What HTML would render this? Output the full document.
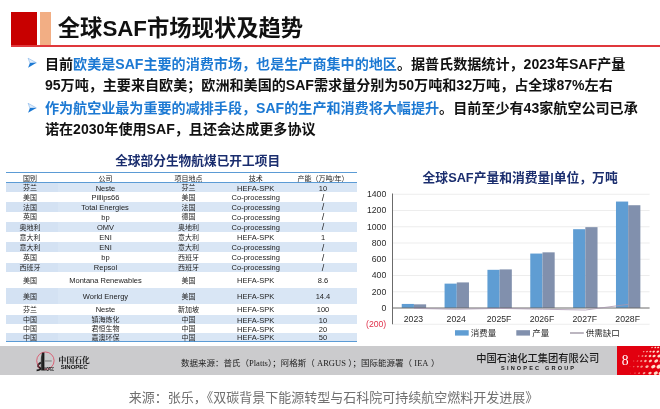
<!DOCTYPE html>
<html lang="zh"><head><meta charset="utf-8"><title>全球SAF市场现状及趋势</title><style>
html,body{margin:0;padding:0;background:#fff}
body{width:660px;height:409px;position:relative;overflow:hidden;font-family:"Liberation Sans",sans-serif}
#v{position:absolute;left:0;top:0;width:660px;height:409px;overflow:hidden}
#w{position:absolute;left:0;top:0;width:660px;height:409px;filter:blur(.5px)}
.b{position:absolute}
.l{position:absolute;overflow:hidden;white-space:nowrap;line-height:1;color:transparent}
.l svg{position:absolute;left:0;top:0;overflow:visible}
.l text{font-family:"Liberation Sans","Noto Sans CJK SC",sans-serif}
.l text.se,.l tspan.se{font-family:"Liberation Serif","Noto Serif CJK SC",serif}
</style></head>
<body>
<div id="v"><div id="w">
<div class="b" style="left:10.5px;top:12.4px;width:26.5px;height:33.4px;background:#c80000"></div>
<div class="b" style="left:40.0px;top:12.4px;width:11.0px;height:33.4px;background:#f2ae84"></div>
<div class="b" style="left:10.5px;top:45.3px;width:665.0px;height:1.5px;background:#e0383c"></div>
<div class="l" style="left:56px;top:12px;width:247px;height:32px;font-size:22.3px"><svg width="247" height="32"><text x="1.8" y="24.3" font-size="22.3" font-weight="bold" fill="#111">全球SAF市场现状及趋势</text></svg></div>
<svg class="b" style="left:27px;top:57px" width="12" height="13" viewBox="-0.70 -0.70 12 13"><path d="M0.4 0.5L8.7 5.1L2.2 5.3Z" fill="#e3eefa" stroke="#6aa6e6" stroke-width="0.5" stroke-linejoin="round"/><path d="M2.2 5.3L8.7 5.1L0.4 10Z" fill="#1c79d3"/></svg>
<svg class="b" style="left:27px;top:102px" width="12" height="13" viewBox="-0.70 -0.80 12 13"><path d="M0.4 0.5L8.7 5.1L2.2 5.3Z" fill="#e3eefa" stroke="#6aa6e6" stroke-width="0.5" stroke-linejoin="round"/><path d="M2.2 5.3L8.7 5.1L0.4 10Z" fill="#1c79d3"/></svg>
<div class="l" style="left:43px;top:53px;width:585px;height:22px;font-size:14.1px"><svg width="585" height="22"><text x="1.9" y="15.8" font-size="14.08" font-weight="bold" fill="#111">目前<tspan fill="#1c79d3">欧美是SAF主要的消费市场，也是生产商集中的地区</tspan>。据普氏数据统计，2023年SAF产量</text></svg></div>
<div class="l" style="left:43px;top:74px;width:572px;height:22px;font-size:14.1px"><svg width="572" height="22"><text x="1.9" y="15.95" font-size="14.08" font-weight="bold" fill="#111">95万吨，主要来自欧美；欧洲和美国的SAF需求量分别为50万吨和32万吨，占全球87%左右</text></svg></div>
<div class="l" style="left:43px;top:97px;width:597px;height:22px;font-size:14.1px"><svg width="597" height="22"><text x="1.9" y="16.05" font-size="14.08" font-weight="bold" fill="#111"><tspan fill="#1c79d3">作为航空业最为重要的减排手段，SAF的生产和消费将大幅提升</tspan>。目前至少有43家航空公司已承</text></svg></div>
<div class="l" style="left:43px;top:119px;width:275px;height:21px;font-size:14.1px"><svg width="275" height="21"><text x="1.9" y="15.15" font-size="14.08" font-weight="bold" fill="#111">诺在2030年使用SAF，且还会达成更多协议</text></svg></div>
<div class="l" style="left:114px;top:151px;width:169px;height:19px;font-size:12.7px"><svg width="169" height="19"><text x="1.15" y="14" font-size="12.7" font-weight="bold" fill="#1a2d6e">全球部分生物航煤已开工项目</text></svg></div>
<div class="b" style="left:6.0px;top:172.1px;width:351.0px;height:1.1px;background:#5b9bd5"></div>
<div class="b" style="left:6.0px;top:181.8px;width:351.0px;height:1.1px;background:#5b9bd5"></div>
<div class="b" style="left:6.0px;top:340.9px;width:351.0px;height:1.0px;background:#5b9bd5"></div>
<div class="l" style="left:22px;top:172px;width:17px;height:13px;font-size:7.0px"><svg width="17" height="13"><text x="1" y="8.99" font-size="7" fill="#1c1c1c">国别</text></svg></div>
<div class="l" style="left:97px;top:172px;width:18px;height:13px;font-size:7.0px"><svg width="18" height="13"><text x="1.5" y="8.99" font-size="7" fill="#1c1c1c">公司</text></svg></div>
<div class="l" style="left:173px;top:172px;width:32px;height:13px;font-size:7.0px"><svg width="32" height="13"><text x="1.5" y="8.99" font-size="7" fill="#1c1c1c">项目地点</text></svg></div>
<div class="l" style="left:247px;top:172px;width:18px;height:13px;font-size:7.0px"><svg width="18" height="13"><text x="1.8" y="8.99" font-size="7" fill="#1c1c1c">技术</text></svg></div>
<div class="l" style="left:296px;top:172px;width:55px;height:13px;font-size:7.0px"><svg width="55" height="13"><text x="1.53" y="8.99" font-size="7" fill="#1c1c1c">产能（万吨/年）</text></svg></div>
<div class="b" style="left:6.0px;top:182.9px;width:351.0px;height:9.5px;background:#d9e6f5"></div>
<div class="b" style="left:6.0px;top:182.9px;width:52.0px;height:9.5px;background:#d4e2f3"></div>
<div class="l" style="left:22px;top:182px;width:17px;height:12px;font-size:7.0px"><svg width="17" height="12"><text x="1" y="8.44" font-size="7" fill="#1c1c1c">芬兰</text></svg></div>
<div class="l" style="left:94px;top:182px;width:24px;height:12px;font-size:7.5px"><svg width="24" height="12"><text x="1.7" y="8.62" font-size="7.5" fill="#1c1c1c">Neste</text></svg></div>
<div class="l" style="left:180px;top:182px;width:18px;height:12px;font-size:7.0px"><svg width="18" height="12"><text x="1.5" y="8.44" font-size="7" fill="#1c1c1c">芬兰</text></svg></div>
<div class="l" style="left:236px;top:182px;width:41px;height:12px;font-size:7.5px"><svg width="41" height="12"><text x="1.05" y="8.62" font-size="7.5" fill="#1c1c1c">HEFA-SPK</text></svg></div>
<div class="l" style="left:317px;top:182px;width:13px;height:12px;font-size:7.5px"><svg width="13" height="12"><text x="1.83" y="8.62" font-size="7.5" fill="#1c1c1c">10</text></svg></div>
<div class="l" style="left:22px;top:191px;width:17px;height:13px;font-size:7.0px"><svg width="17" height="13"><text x="1" y="8.99" font-size="7" fill="#1c1c1c">美国</text></svg></div>
<div class="l" style="left:90px;top:191px;width:32px;height:13px;font-size:7.5px"><svg width="32" height="13"><text x="1.53" y="9.17" font-size="7.5" fill="#1c1c1c">Pillips66</text></svg></div>
<div class="l" style="left:180px;top:191px;width:18px;height:13px;font-size:7.0px"><svg width="18" height="13"><text x="1.5" y="8.99" font-size="7" fill="#1c1c1c">美国</text></svg></div>
<div class="l" style="left:230px;top:191px;width:52px;height:13px;font-size:7.5px"><svg width="52" height="13"><text x="1.62" y="9.17" font-size="7.5" fill="#1c1c1c">Co-processing</text></svg></div>
<div class="l" style="left:320px;top:190px;width:7px;height:15px;font-size:9.0px"><svg width="7" height="15"><text x="1.75" y="10.73" font-size="9" fill="#1c1c1c">/</text></svg></div>
<div class="b" style="left:6.0px;top:202.0px;width:351.0px;height:9.7px;background:#d9e6f5"></div>
<div class="b" style="left:6.0px;top:202.0px;width:52.0px;height:9.7px;background:#d4e2f3"></div>
<div class="l" style="left:22px;top:201px;width:17px;height:12px;font-size:7.0px"><svg width="17" height="12"><text x="1" y="8.64" font-size="7" fill="#1c1c1c">法国</text></svg></div>
<div class="l" style="left:80px;top:201px;width:52px;height:13px;font-size:7.5px"><svg width="52" height="13"><text x="1.32" y="8.82" font-size="7.5" fill="#1c1c1c">Total Energies</text></svg></div>
<div class="l" style="left:180px;top:201px;width:18px;height:12px;font-size:7.0px"><svg width="18" height="12"><text x="1.5" y="8.64" font-size="7" fill="#1c1c1c">法国</text></svg></div>
<div class="l" style="left:230px;top:201px;width:52px;height:13px;font-size:7.5px"><svg width="52" height="13"><text x="1.62" y="8.82" font-size="7.5" fill="#1c1c1c">Co-processing</text></svg></div>
<div class="l" style="left:320px;top:200px;width:7px;height:15px;font-size:9.0px"><svg width="7" height="15"><text x="1.75" y="10.38" font-size="9" fill="#1c1c1c">/</text></svg></div>
<div class="l" style="left:22px;top:211px;width:17px;height:12px;font-size:7.0px"><svg width="17" height="12"><text x="1" y="8.49" font-size="7" fill="#1c1c1c">英国</text></svg></div>
<div class="l" style="left:100px;top:211px;width:12px;height:12px;font-size:7.5px"><svg width="12" height="12"><text x="1.33" y="8.67" font-size="7.5" fill="#1c1c1c">bp</text></svg></div>
<div class="l" style="left:180px;top:211px;width:18px;height:12px;font-size:7.0px"><svg width="18" height="12"><text x="1.5" y="8.49" font-size="7" fill="#1c1c1c">德国</text></svg></div>
<div class="l" style="left:230px;top:211px;width:52px;height:12px;font-size:7.5px"><svg width="52" height="12"><text x="1.62" y="8.67" font-size="7.5" fill="#1c1c1c">Co-processing</text></svg></div>
<div class="l" style="left:320px;top:210px;width:7px;height:14px;font-size:9.0px"><svg width="7" height="14"><text x="1.75" y="10.23" font-size="9" fill="#1c1c1c">/</text></svg></div>
<div class="b" style="left:6.0px;top:221.7px;width:351.0px;height:10.2px;background:#d9e6f5"></div>
<div class="b" style="left:6.0px;top:221.7px;width:52.0px;height:10.2px;background:#d4e2f3"></div>
<div class="l" style="left:18px;top:221px;width:25px;height:12px;font-size:7.0px"><svg width="25" height="12"><text x="1.5" y="8.59" font-size="7" fill="#1c1c1c">奥地利</text></svg></div>
<div class="l" style="left:95px;top:221px;width:22px;height:13px;font-size:7.5px"><svg width="22" height="13"><text x="1.96" y="8.78" font-size="7.5" fill="#1c1c1c">OMV</text></svg></div>
<div class="l" style="left:177px;top:221px;width:24px;height:12px;font-size:7.0px"><svg width="24" height="12"><text x="1" y="8.59" font-size="7" fill="#1c1c1c">奥地利</text></svg></div>
<div class="l" style="left:230px;top:221px;width:52px;height:13px;font-size:7.5px"><svg width="52" height="13"><text x="1.62" y="8.78" font-size="7.5" fill="#1c1c1c">Co-processing</text></svg></div>
<div class="l" style="left:320px;top:220px;width:7px;height:15px;font-size:9.0px"><svg width="7" height="15"><text x="1.75" y="10.33" font-size="9" fill="#1c1c1c">/</text></svg></div>
<div class="l" style="left:18px;top:231px;width:25px;height:12px;font-size:7.0px"><svg width="25" height="12"><text x="1.5" y="8.74" font-size="7" fill="#1c1c1c">意大利</text></svg></div>
<div class="l" style="left:98px;top:231px;width:16px;height:13px;font-size:7.5px"><svg width="16" height="13"><text x="1.25" y="8.92" font-size="7.5" fill="#1c1c1c">ENI</text></svg></div>
<div class="l" style="left:177px;top:231px;width:24px;height:12px;font-size:7.0px"><svg width="24" height="12"><text x="1" y="8.74" font-size="7" fill="#1c1c1c">意大利</text></svg></div>
<div class="l" style="left:236px;top:231px;width:41px;height:13px;font-size:7.5px"><svg width="41" height="13"><text x="1.05" y="8.92" font-size="7.5" fill="#1c1c1c">HEFA-SPK</text></svg></div>
<div class="l" style="left:319px;top:231px;width:9px;height:13px;font-size:7.5px"><svg width="9" height="13"><text x="1.91" y="8.92" font-size="7.5" fill="#1c1c1c">1</text></svg></div>
<div class="b" style="left:6.0px;top:242.0px;width:351.0px;height:10.1px;background:#d9e6f5"></div>
<div class="b" style="left:6.0px;top:242.0px;width:52.0px;height:10.1px;background:#d4e2f3"></div>
<div class="l" style="left:18px;top:241px;width:25px;height:12px;font-size:7.0px"><svg width="25" height="12"><text x="1.5" y="8.84" font-size="7" fill="#1c1c1c">意大利</text></svg></div>
<div class="l" style="left:98px;top:241px;width:16px;height:13px;font-size:7.5px"><svg width="16" height="13"><text x="1.25" y="9.03" font-size="7.5" fill="#1c1c1c">ENI</text></svg></div>
<div class="l" style="left:177px;top:241px;width:24px;height:12px;font-size:7.0px"><svg width="24" height="12"><text x="1" y="8.84" font-size="7" fill="#1c1c1c">意大利</text></svg></div>
<div class="l" style="left:230px;top:241px;width:52px;height:13px;font-size:7.5px"><svg width="52" height="13"><text x="1.62" y="9.03" font-size="7.5" fill="#1c1c1c">Co-processing</text></svg></div>
<div class="l" style="left:320px;top:240px;width:7px;height:15px;font-size:9.0px"><svg width="7" height="15"><text x="1.75" y="10.58" font-size="9" fill="#1c1c1c">/</text></svg></div>
<div class="l" style="left:22px;top:252px;width:17px;height:12px;font-size:7.0px"><svg width="17" height="12"><text x="1" y="8.09" font-size="7" fill="#1c1c1c">英国</text></svg></div>
<div class="l" style="left:100px;top:251px;width:12px;height:13px;font-size:7.5px"><svg width="12" height="13"><text x="1.33" y="9.27" font-size="7.5" fill="#1c1c1c">bp</text></svg></div>
<div class="l" style="left:177px;top:252px;width:24px;height:12px;font-size:7.0px"><svg width="24" height="12"><text x="1" y="8.09" font-size="7" fill="#1c1c1c">西班牙</text></svg></div>
<div class="l" style="left:230px;top:251px;width:52px;height:13px;font-size:7.5px"><svg width="52" height="13"><text x="1.62" y="9.27" font-size="7.5" fill="#1c1c1c">Co-processing</text></svg></div>
<div class="l" style="left:320px;top:250px;width:7px;height:15px;font-size:9.0px"><svg width="7" height="15"><text x="1.75" y="10.83" font-size="9" fill="#1c1c1c">/</text></svg></div>
<div class="b" style="left:6.0px;top:262.5px;width:351.0px;height:9.4px;background:#d9e6f5"></div>
<div class="b" style="left:6.0px;top:262.5px;width:52.0px;height:9.4px;background:#d4e2f3"></div>
<div class="l" style="left:18px;top:261px;width:25px;height:13px;font-size:7.0px"><svg width="25" height="13"><text x="1.5" y="8.99" font-size="7" fill="#1c1c1c">西班牙</text></svg></div>
<div class="l" style="left:92px;top:261px;width:28px;height:13px;font-size:7.5px"><svg width="28" height="13"><text x="1.83" y="9.17" font-size="7.5" fill="#1c1c1c">Repsol</text></svg></div>
<div class="l" style="left:177px;top:261px;width:24px;height:13px;font-size:7.0px"><svg width="24" height="13"><text x="1" y="8.99" font-size="7" fill="#1c1c1c">西班牙</text></svg></div>
<div class="l" style="left:230px;top:261px;width:52px;height:13px;font-size:7.5px"><svg width="52" height="13"><text x="1.62" y="9.17" font-size="7.5" fill="#1c1c1c">Co-processing</text></svg></div>
<div class="l" style="left:320px;top:260px;width:7px;height:15px;font-size:9.0px"><svg width="7" height="15"><text x="1.75" y="10.73" font-size="9" fill="#1c1c1c">/</text></svg></div>
<div class="l" style="left:22px;top:274px;width:17px;height:12px;font-size:7.0px"><svg width="17" height="12"><text x="1" y="8.89" font-size="7" fill="#1c1c1c">美国</text></svg></div>
<div class="l" style="left:68px;top:274px;width:76px;height:13px;font-size:7.5px"><svg width="76" height="13"><text x="1.23" y="9.07" font-size="7.5" fill="#1c1c1c">Montana Renewables</text></svg></div>
<div class="l" style="left:180px;top:274px;width:18px;height:12px;font-size:7.0px"><svg width="18" height="12"><text x="1.5" y="8.89" font-size="7" fill="#1c1c1c">美国</text></svg></div>
<div class="l" style="left:236px;top:274px;width:41px;height:13px;font-size:7.5px"><svg width="41" height="13"><text x="1.05" y="9.07" font-size="7.5" fill="#1c1c1c">HEFA-SPK</text></svg></div>
<div class="l" style="left:316px;top:274px;width:15px;height:13px;font-size:7.5px"><svg width="15" height="13"><text x="1.79" y="9.07" font-size="7.5" fill="#1c1c1c">8.6</text></svg></div>
<div class="b" style="left:6.0px;top:288.3px;width:351.0px;height:15.7px;background:#d9e6f5"></div>
<div class="b" style="left:6.0px;top:288.3px;width:52.0px;height:15.7px;background:#d4e2f3"></div>
<div class="l" style="left:22px;top:290px;width:17px;height:13px;font-size:7.0px"><svg width="17" height="13"><text x="1" y="8.94" font-size="7" fill="#1c1c1c">美国</text></svg></div>
<div class="l" style="left:81px;top:290px;width:50px;height:13px;font-size:7.5px"><svg width="50" height="13"><text x="1.78" y="9.12" font-size="7.5" fill="#1c1c1c">World Energy</text></svg></div>
<div class="l" style="left:180px;top:290px;width:18px;height:13px;font-size:7.0px"><svg width="18" height="13"><text x="1.5" y="8.94" font-size="7" fill="#1c1c1c">美国</text></svg></div>
<div class="l" style="left:236px;top:290px;width:41px;height:13px;font-size:7.5px"><svg width="41" height="13"><text x="1.05" y="9.12" font-size="7.5" fill="#1c1c1c">HEFA-SPK</text></svg></div>
<div class="l" style="left:314px;top:290px;width:19px;height:13px;font-size:7.5px"><svg width="19" height="13"><text x="1.7" y="9.12" font-size="7.5" fill="#1c1c1c">14.4</text></svg></div>
<div class="l" style="left:22px;top:304px;width:17px;height:12px;font-size:7.0px"><svg width="17" height="12"><text x="1" y="8.29" font-size="7" fill="#1c1c1c">芬兰</text></svg></div>
<div class="l" style="left:94px;top:303px;width:24px;height:13px;font-size:7.5px"><svg width="24" height="13"><text x="1.7" y="9.47" font-size="7.5" fill="#1c1c1c">Neste</text></svg></div>
<div class="l" style="left:177px;top:304px;width:24px;height:12px;font-size:7.0px"><svg width="24" height="12"><text x="1" y="8.29" font-size="7" fill="#1c1c1c">新加坡</text></svg></div>
<div class="l" style="left:236px;top:303px;width:41px;height:13px;font-size:7.5px"><svg width="41" height="13"><text x="1.05" y="9.47" font-size="7.5" fill="#1c1c1c">HEFA-SPK</text></svg></div>
<div class="l" style="left:315px;top:303px;width:17px;height:13px;font-size:7.5px"><svg width="17" height="13"><text x="1.74" y="9.47" font-size="7.5" fill="#1c1c1c">100</text></svg></div>
<div class="b" style="left:6.0px;top:315.0px;width:351.0px;height:9.3px;background:#d9e6f5"></div>
<div class="b" style="left:6.0px;top:315.0px;width:52.0px;height:9.3px;background:#d4e2f3"></div>
<div class="l" style="left:22px;top:314px;width:17px;height:12px;font-size:7.0px"><svg width="17" height="12"><text x="1" y="8.44" font-size="7" fill="#1c1c1c">中国</text></svg></div>
<div class="l" style="left:90px;top:314px;width:32px;height:12px;font-size:7.0px"><svg width="32" height="12"><text x="1.5" y="8.44" font-size="7" fill="#1c1c1c">镇海炼化</text></svg></div>
<div class="l" style="left:180px;top:314px;width:18px;height:12px;font-size:7.0px"><svg width="18" height="12"><text x="1.5" y="8.44" font-size="7" fill="#1c1c1c">中国</text></svg></div>
<div class="l" style="left:236px;top:314px;width:41px;height:12px;font-size:7.5px"><svg width="41" height="12"><text x="1.05" y="8.62" font-size="7.5" fill="#1c1c1c">HEFA-SPK</text></svg></div>
<div class="l" style="left:317px;top:314px;width:13px;height:12px;font-size:7.5px"><svg width="13" height="12"><text x="1.83" y="8.62" font-size="7.5" fill="#1c1c1c">10</text></svg></div>
<div class="l" style="left:22px;top:323px;width:17px;height:12px;font-size:7.0px"><svg width="17" height="12"><text x="1" y="8.44" font-size="7" fill="#1c1c1c">中国</text></svg></div>
<div class="l" style="left:90px;top:323px;width:32px;height:12px;font-size:7.0px"><svg width="32" height="12"><text x="1.5" y="8.44" font-size="7" fill="#1c1c1c">君恒生物</text></svg></div>
<div class="l" style="left:180px;top:323px;width:18px;height:12px;font-size:7.0px"><svg width="18" height="12"><text x="1.5" y="8.44" font-size="7" fill="#1c1c1c">中国</text></svg></div>
<div class="l" style="left:236px;top:323px;width:41px;height:12px;font-size:7.5px"><svg width="41" height="12"><text x="1.05" y="8.62" font-size="7.5" fill="#1c1c1c">HEFA-SPK</text></svg></div>
<div class="l" style="left:317px;top:323px;width:13px;height:12px;font-size:7.5px"><svg width="13" height="12"><text x="1.83" y="8.62" font-size="7.5" fill="#1c1c1c">20</text></svg></div>
<div class="b" style="left:6.0px;top:333.0px;width:351.0px;height:8.1px;background:#d9e6f5"></div>
<div class="b" style="left:6.0px;top:333.0px;width:52.0px;height:8.1px;background:#d4e2f3"></div>
<div class="l" style="left:22px;top:331px;width:17px;height:12px;font-size:7.0px"><svg width="17" height="12"><text x="1" y="8.84" font-size="7" fill="#1c1c1c">中国</text></svg></div>
<div class="l" style="left:90px;top:331px;width:32px;height:12px;font-size:7.0px"><svg width="32" height="12"><text x="1.5" y="8.84" font-size="7" fill="#1c1c1c">嘉澳环保</text></svg></div>
<div class="l" style="left:180px;top:331px;width:18px;height:12px;font-size:7.0px"><svg width="18" height="12"><text x="1.5" y="8.84" font-size="7" fill="#1c1c1c">中国</text></svg></div>
<div class="l" style="left:236px;top:331px;width:41px;height:13px;font-size:7.5px"><svg width="41" height="13"><text x="1.05" y="9.02" font-size="7.5" fill="#1c1c1c">HEFA-SPK</text></svg></div>
<div class="l" style="left:317px;top:331px;width:13px;height:13px;font-size:7.5px"><svg width="13" height="13"><text x="1.83" y="9.02" font-size="7.5" fill="#1c1c1c">50</text></svg></div>
<div class="l" style="left:421px;top:167px;width:198px;height:20px;font-size:12.8px"><svg width="198" height="20"><text x="1.6" y="14.5" font-size="12.78" font-weight="bold" fill="#1a2d6e">全球SAF产量和消费量|单位，万吨</text></svg></div>
<svg class="b" style="left:0;top:0" width="660" height="409" viewBox="0 0 660 409"><line x1="392.5" y1="194.25" x2="649.6" y2="194.25" stroke="#e8e8e8" stroke-width="0.8"/><line x1="392.5" y1="210.50" x2="649.6" y2="210.50" stroke="#e8e8e8" stroke-width="0.8"/><line x1="392.5" y1="226.75" x2="649.6" y2="226.75" stroke="#e8e8e8" stroke-width="0.8"/><line x1="392.5" y1="243.00" x2="649.6" y2="243.00" stroke="#e8e8e8" stroke-width="0.8"/><line x1="392.5" y1="259.25" x2="649.6" y2="259.25" stroke="#e8e8e8" stroke-width="0.8"/><line x1="392.5" y1="275.50" x2="649.6" y2="275.50" stroke="#e8e8e8" stroke-width="0.8"/><line x1="392.5" y1="291.75" x2="649.6" y2="291.75" stroke="#e8e8e8" stroke-width="0.8"/><line x1="392.5" y1="324.25" x2="649.6" y2="324.25" stroke="#e8e8e8" stroke-width="0.8"/><rect x="401.73" y="303.94" width="12.20" height="4.06" fill="#5f9dd3"/><rect x="413.93" y="304.34" width="12.20" height="3.66" fill="#8190ad"/><rect x="444.57" y="283.62" width="12.20" height="24.38" fill="#5f9dd3"/><rect x="456.77" y="282.41" width="12.20" height="25.59" fill="#8190ad"/><rect x="487.43" y="269.81" width="12.20" height="38.19" fill="#5f9dd3"/><rect x="499.62" y="269.41" width="12.20" height="38.59" fill="#8190ad"/><rect x="530.27" y="253.56" width="12.20" height="54.44" fill="#5f9dd3"/><rect x="542.48" y="252.34" width="12.20" height="55.66" fill="#8190ad"/><rect x="573.12" y="229.19" width="12.20" height="78.81" fill="#5f9dd3"/><rect x="585.33" y="227.16" width="12.20" height="80.84" fill="#8190ad"/><rect x="615.97" y="201.56" width="12.20" height="106.44" fill="#5f9dd3"/><rect x="628.17" y="205.22" width="12.20" height="102.78" fill="#8190ad"/><line x1="392.5" y1="193.5" x2="392.5" y2="324.25" stroke="#6b6b6b" stroke-width="1"/><line x1="392.5" y1="308.00" x2="649.6" y2="308.00" stroke="#6b6b6b" stroke-width="1"/><polyline points="413.9,308.41 456.8,309.22 499.6,308.41 542.5,309.22 585.3,310.03 628.2,304.34" fill="none" stroke="#a795ae" stroke-width="0.8"/><rect x="455" y="330.2" width="13.7" height="5.4" fill="#5f9dd3"/><rect x="516.3" y="330.2" width="13.7" height="5.4" fill="#8190ad"/><line x1="570" y1="333" x2="583.8" y2="333" stroke="#857a8c" stroke-width="1.1"/></svg>
<div class="l" style="left:365px;top:187px;width:24px;height:14px;font-size:8.7px"><svg width="24" height="14"><text x="1.95" y="10.08" font-size="8.7" fill="#2a2a2a">1400</text></svg></div>
<div class="l" style="left:365px;top:203px;width:24px;height:14px;font-size:8.7px"><svg width="24" height="14"><text x="1.95" y="10.33" font-size="8.7" fill="#2a2a2a">1200</text></svg></div>
<div class="l" style="left:365px;top:219px;width:24px;height:15px;font-size:8.7px"><svg width="24" height="15"><text x="1.95" y="10.58" font-size="8.7" fill="#2a2a2a">1000</text></svg></div>
<div class="l" style="left:370px;top:236px;width:19px;height:14px;font-size:8.7px"><svg width="19" height="14"><text x="1.78" y="9.83" font-size="8.7" fill="#2a2a2a">800</text></svg></div>
<div class="l" style="left:370px;top:252px;width:19px;height:14px;font-size:8.7px"><svg width="19" height="14"><text x="1.78" y="10.08" font-size="8.7" fill="#2a2a2a">600</text></svg></div>
<div class="l" style="left:370px;top:268px;width:19px;height:14px;font-size:8.7px"><svg width="19" height="14"><text x="1.78" y="10.33" font-size="8.7" fill="#2a2a2a">400</text></svg></div>
<div class="l" style="left:370px;top:284px;width:19px;height:15px;font-size:8.7px"><svg width="19" height="15"><text x="1.78" y="10.58" font-size="8.7" fill="#2a2a2a">200</text></svg></div>
<div class="l" style="left:380px;top:301px;width:9px;height:14px;font-size:8.7px"><svg width="9" height="14"><text x="1.46" y="9.83" font-size="8.7" fill="#2a2a2a">0</text></svg></div>
<div class="l" style="left:364px;top:317px;width:25px;height:14px;font-size:8.7px"><svg width="25" height="14"><text x="1.99" y="10.38" font-size="8.7" fill="#e0304a">(200)</text></svg></div>
<div class="l" style="left:402px;top:312px;width:24px;height:15px;font-size:8.7px"><svg width="24" height="15"><text x="1.75" y="10.43" font-size="8.7" fill="#2a2a2a">2023</text></svg></div>
<div class="l" style="left:445px;top:312px;width:23px;height:15px;font-size:8.7px"><svg width="23" height="15"><text x="1.6" y="10.43" font-size="8.7" fill="#2a2a2a">2024</text></svg></div>
<div class="l" style="left:485px;top:312px;width:29px;height:15px;font-size:8.7px"><svg width="29" height="15"><text x="1.79" y="10.43" font-size="8.7" fill="#2a2a2a">2025F</text></svg></div>
<div class="l" style="left:528px;top:312px;width:29px;height:15px;font-size:8.7px"><svg width="29" height="15"><text x="1.64" y="10.43" font-size="8.7" fill="#2a2a2a">2026F</text></svg></div>
<div class="l" style="left:571px;top:312px;width:29px;height:15px;font-size:8.7px"><svg width="29" height="15"><text x="1.49" y="10.43" font-size="8.7" fill="#2a2a2a">2027F</text></svg></div>
<div class="l" style="left:614px;top:312px;width:29px;height:15px;font-size:8.7px"><svg width="29" height="15"><text x="1.34" y="10.43" font-size="8.7" fill="#2a2a2a">2028F</text></svg></div>
<div class="l" style="left:469px;top:326px;width:30px;height:14px;font-size:8.5px"><svg width="30" height="14"><text x="1.8" y="10.14" font-size="8.5" fill="#2a2a2a">消费量</text></svg></div>
<div class="l" style="left:531px;top:326px;width:21px;height:14px;font-size:8.5px"><svg width="21" height="14"><text x="1.3" y="10.14" font-size="8.5" fill="#2a2a2a">产量</text></svg></div>
<div class="l" style="left:584px;top:326px;width:38px;height:14px;font-size:8.5px"><svg width="38" height="14"><text x="1.8" y="10.14" font-size="8.5" fill="#2a2a2a">供需缺口</text></svg></div>
<div class="b" style="left:-10.0px;top:346.0px;width:680.0px;height:29.2px;background:#cbcbcd"></div>
<div class="b" style="left:617px;top:346px;width:53px;height:29.2px;background:#e2000f;overflow:hidden"><svg width="53" height="30" viewBox="617 346 53 30" style="position:absolute;left:0;top:0;filter:blur(0.35px)"><g fill="#ffe0cc"><ellipse cx="652.0" cy="347.5" rx="0.87" ry="0.62" opacity="0.96" transform="rotate(-25 652.0 347.5)"/><ellipse cx="655.3" cy="347.5" rx="0.96" ry="0.69" opacity="1.00" transform="rotate(-25 655.3 347.5)"/><ellipse cx="658.2" cy="347.5" rx="1.05" ry="0.76" opacity="1.00" transform="rotate(-25 658.2 347.5)"/><ellipse cx="643.7" cy="351.6" rx="0.86" ry="0.62" opacity="0.72" transform="rotate(-25 643.7 351.6)"/><ellipse cx="647.0" cy="351.6" rx="0.99" ry="0.71" opacity="0.81" transform="rotate(-25 647.0 351.6)"/><ellipse cx="650.4" cy="351.6" rx="1.13" ry="0.81" opacity="0.91" transform="rotate(-25 650.4 351.6)"/><ellipse cx="653.7" cy="351.6" rx="1.26" ry="0.91" opacity="1.00" transform="rotate(-25 653.7 351.6)"/><ellipse cx="657.8" cy="351.6" rx="1.43" ry="1.03" opacity="1.00" transform="rotate(-25 657.8 351.6)"/><ellipse cx="638.7" cy="356.0" rx="0.84" ry="0.61" opacity="0.57" transform="rotate(-25 638.7 356.0)"/><ellipse cx="642.5" cy="356.0" rx="1.04" ry="0.75" opacity="0.68" transform="rotate(-25 642.5 356.0)"/><ellipse cx="645.8" cy="356.0" rx="1.21" ry="0.87" opacity="0.78" transform="rotate(-25 645.8 356.0)"/><ellipse cx="650.0" cy="356.0" rx="1.44" ry="1.03" opacity="0.90" transform="rotate(-25 650.0 356.0)"/><ellipse cx="654.1" cy="356.0" rx="1.65" ry="1.19" opacity="1.00" transform="rotate(-25 654.1 356.0)"/><ellipse cx="659.1" cy="356.0" rx="1.91" ry="1.38" opacity="1.00" transform="rotate(-25 659.1 356.0)"/><ellipse cx="633.7" cy="361.0" rx="0.69" ry="0.50" opacity="0.42" transform="rotate(-25 633.7 361.0)"/><ellipse cx="637.5" cy="361.0" rx="0.92" ry="0.67" opacity="0.53" transform="rotate(-25 637.5 361.0)"/><ellipse cx="641.2" cy="361.0" rx="1.16" ry="0.83" opacity="0.64" transform="rotate(-25 641.2 361.0)"/><ellipse cx="645.4" cy="361.0" rx="1.42" ry="1.02" opacity="0.77" transform="rotate(-25 645.4 361.0)"/><ellipse cx="650.4" cy="361.0" rx="1.73" ry="1.24" opacity="0.91" transform="rotate(-25 650.4 361.0)"/><ellipse cx="656.2" cy="361.0" rx="2.09" ry="1.51" opacity="1.00" transform="rotate(-25 656.2 361.0)"/><ellipse cx="662.0" cy="361.0" rx="2.45" ry="1.77" opacity="1.00" transform="rotate(-25 662.0 361.0)"/><ellipse cx="630.0" cy="366.6" rx="0.54" ry="0.39" opacity="0.31" transform="rotate(-25 630.0 366.6)"/><ellipse cx="633.7" cy="366.6" rx="0.81" ry="0.58" opacity="0.42" transform="rotate(-25 633.7 366.6)"/><ellipse cx="637.9" cy="366.6" rx="1.12" ry="0.81" opacity="0.54" transform="rotate(-25 637.9 366.6)"/><ellipse cx="641.6" cy="366.6" rx="1.39" ry="1.00" opacity="0.65" transform="rotate(-25 641.6 366.6)"/><ellipse cx="647.0" cy="366.6" rx="1.79" ry="1.29" opacity="0.81" transform="rotate(-25 647.0 366.6)"/><ellipse cx="653.3" cy="366.6" rx="2.25" ry="1.62" opacity="1.00" transform="rotate(-25 653.3 366.6)"/><ellipse cx="659.1" cy="366.6" rx="2.68" ry="1.93" opacity="1.00" transform="rotate(-25 659.1 366.6)"/><ellipse cx="630.4" cy="373.1" rx="0.51" ry="0.37" opacity="0.32" transform="rotate(-25 630.4 373.1)"/><ellipse cx="635.0" cy="373.1" rx="0.81" ry="0.58" opacity="0.46" transform="rotate(-25 635.0 373.1)"/><ellipse cx="639.1" cy="373.1" rx="1.08" ry="0.78" opacity="0.58" transform="rotate(-25 639.1 373.1)"/><ellipse cx="644.1" cy="373.1" rx="1.41" ry="1.01" opacity="0.73" transform="rotate(-25 644.1 373.1)"/><ellipse cx="650.0" cy="373.1" rx="1.79" ry="1.29" opacity="0.90" transform="rotate(-25 650.0 373.1)"/><ellipse cx="655.8" cy="373.1" rx="2.17" ry="1.57" opacity="1.00" transform="rotate(-25 655.8 373.1)"/><ellipse cx="661.0" cy="373.1" rx="2.52" ry="1.81" opacity="1.00" transform="rotate(-25 661.0 373.1)"/></g></svg></div>
<div class="l" style="left:620px;top:350px;width:11px;height:21px;font-size:13.6px"><svg width="11" height="21"><text class="se" x="1.7" y="15.1" font-size="13.6" fill="#fff">8</text></svg></div>
<svg class="b" style="left:34px;top:349px" width="24" height="24" viewBox="34 349 24 24"><defs><linearGradient id="tw" x1="0" x2="1" y1="0" y2="0"><stop offset="0" stop-color="#777"/><stop offset=".35" stop-color="#2a2a2a"/><stop offset="1" stop-color="#111"/></linearGradient></defs><circle cx="45.4" cy="360.7" r="8.7" fill="none" stroke="#dd4660" stroke-width="0.8"/><path d="M41.9 352.7L44.4 352.5L44.4 370.6L40.5 370.6L40.8 358Z" fill="url(#tw)"/><path d="M40.8 362.5C38.2 364.2 36.8 366.2 39.2 367.5C41.4 368.6 40.4 370.3 36.6 370.3" fill="none" stroke="#1a1a1a" stroke-width="1.7"/><path d="M38.3 363.5C37.6 365.5 38 367.4 39.3 368.6" fill="none" stroke="#d8506a" stroke-width="0.7"/><rect x="44.9" y="360.2" width="6.8" height="1.5" fill="#666" opacity=".55"/></svg>
<div class="l" style="left:43px;top:364px;width:14px;height:10px;font-size:5.4px"><svg width="14" height="10"><text transform="translate(1.6 6.7) scale(0.49 1)" x="0" y="0" font-size="5.4" font-weight="bold" fill="#111">NOPEC</text></svg></div>
<div class="l" style="left:57px;top:353px;width:35px;height:14px;font-size:7.8px"><svg width="35" height="14"><text class="se" x="1.6" y="9.7" font-size="7.8" font-weight="bold" fill="#111">中国石化</text></svg></div>
<div class="l" style="left:59px;top:362px;width:32px;height:10px;font-size:6.0px"><svg width="32" height="10"><text x="1.7" y="7.1" font-size="6" font-weight="bold" fill="#111">SINOPEC</text></svg></div>
<div class="l" style="left:180px;top:356px;width:269px;height:14px;font-size:8.5px"><svg width="269" height="14"><text x="1" y="10.3" font-size="8.5" fill="#222">数据来源：普氏（<tspan class="se">Platts</tspan>）；阿格斯（ <tspan class="se">ARGUS</tspan> ）；国际能源署（ <tspan class="se">IEA</tspan> ）</text></svg></div>
<div class="l" style="left:475px;top:350px;width:127px;height:16px;font-size:10.2px"><svg width="127" height="16"><text x="1.3" y="11.8" font-size="10.25" font-weight="500" fill="#1a1a1a">中国石油化工集团有限公司</text></svg></div>
<div class="l" style="left:500px;top:363px;width:77px;height:10px;font-size:5.6px"><svg width="77" height="10"><text x="1.05" y="6.8" font-size="5.6" font-weight="bold" letter-spacing="2.15" fill="#1a1a1a">SINOPEC GROUP</text></svg></div>
<div class="l" style="left:127px;top:387px;width:420px;height:20px;font-size:13.0px"><svg width="420" height="20"><text x="1.8" y="14.8" font-size="13" fill="#707070">来源：张乐，《双碳背景下能源转型与石科院可持续航空燃料开发进展》</text></svg></div>
</div></div>
</body></html>
